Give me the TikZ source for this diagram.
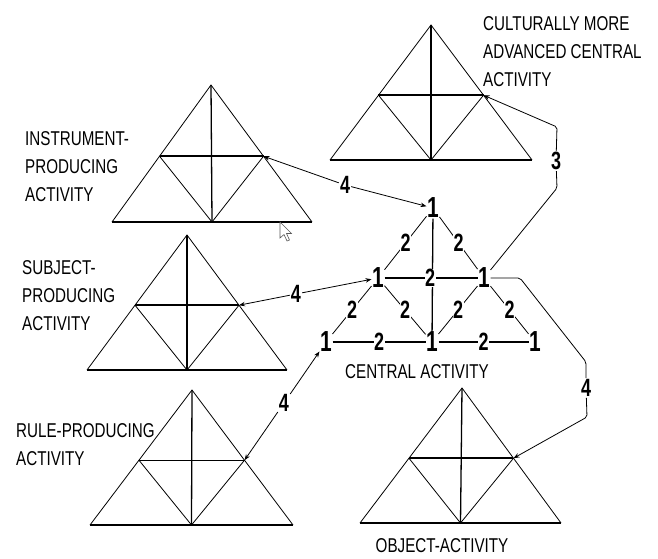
\documentclass[tikz,border=0pt]{standalone}
\usepackage{fontspec}
\usetikzlibrary{arrows.meta,calc}
\newfontfamily\lblfont[FakeStretch=0.76]{Liberation Sans}
\newfontfamily\numfont[FakeStretch=0.72]{Liberation Sans}
\newcommand\mktri[5]{%
  \coordinate (#1a) at #2; \coordinate (#1l) at #3; \coordinate (#1r) at #4;
  \coordinate (#1ml) at ($(#1a)!0.52!(#1l)$);
  \coordinate (#1mr) at ($(#1a)!0.52!(#1r)$);
  \coordinate (#1b) at ($(#1l)!0.5!(#1r)$);
  \draw[side] (#1l) -- (#1a) -- (#1r);
  \draw[basel] (#1l) -- (#1r);
  \draw[vert] (#1a) -- (#1b);
  \draw[side] (#1ml) -- (#1b) -- (#1mr);
  \draw[#5] (#1ml) -- (#1mr);}
\tikzset{
  side/.style={line width=0.8pt},
  basel/.style={line width=2pt},
  vert/.style={line width=1.3pt},
  midthick/.style={line width=2pt},
  midthin/.style={line width=1pt},
  lbl/.style={font=\lblfont\fontsize{20}{28}\selectfont, align=left, inner sep=0pt},
  one/.style={font=\numfont\bfseries\fontsize{29}{29}\selectfont, inner sep=0.5pt},
  two/.style={font=\numfont\bfseries\fontsize{25}{25}\selectfont, inner sep=0.5pt, fill=white},
  num/.style={font=\numfont\bfseries\fontsize{25}{25}\selectfont, inner sep=1pt},
  cline/.style={line width=0.8pt},
  chline/.style={line width=1.5pt},
  conn/.style={line width=0.8pt, -{Stealth[length=6pt,width=4.5pt]}},
  plain/.style={line width=0.8pt}
}
\begin{document}
\begin{tikzpicture}[x=1pt,y=-1pt]
\useasboundingbox (0,0) rectangle (658,558);
\fill[white] (0,0) rectangle (658,558);
% triangles
\mktri{T1}{(431,25)}{(330,160)}{(532,160)}{midthick}
\mktri{T2}{(211,85)}{(112,222)}{(312,222)}{midthick}
\mktri{T3}{(187,235)}{(87,370)}{(287,370)}{midthick}
\mktri{T4}{(192,390)}{(90,525)}{(293,525)}{midthin}
\mktri{T5}{(462,388)}{(360,523)}{(561,523)}{midthick}
% labels
\node[lbl, anchor=north west] (lcult) at (483,16) {CULTURALLY MORE\\ADVANCED CENTRAL\\ACTIVITY};
\node[lbl, anchor=north west] (linstr) at (25,131) {INSTRUMENT-\\PRODUCING\\ACTIVITY};
\node[lbl, anchor=north west] (lsubj) at (22,260) {SUBJECT-\\PRODUCING\\ACTIVITY};
\node[lbl, anchor=north west] (lrule) at (16,423) {RULE-PRODUCING\\ACTIVITY};
\node[lbl] (lcent) at (417,372) {CENTRAL ACTIVITY};
\node[lbl] (lobj) at (442,546) {OBJECT-ACTIVITY};
% central activity
\node[one] (A) at (433,208) {1};
\node[one] (ML) at (378,278) {1};
\node[one] (MR) at (484,278) {1};
\node[one] (BL) at (326,342) {1};
\node[one] (BC) at (432,342) {1};
\node[one] (BR) at (535,342) {1};
\draw[vert] (A) -- (BC);
\draw[chline] (ML) -- (MR);
\draw[chline] (BL) -- node[two] {2} (BC);
\draw[chline] (BC) -- node[two] {2} (BR);
\node[two] (mid2) at (430,278) {2};
\draw[cline] (A) -- node[two] {2} (ML);
\draw[cline] (A) -- node[two] {2} (MR);
\draw[cline] (ML) -- node[two] {2} (BL);
\draw[cline] (ML) -- node[two] {2} (BC);
\draw[cline] (MR) -- node[two] {2} (BC);
\draw[cline] (MR) -- node[two] {2} (BR);
% connectors
\node[num] (n4i) at (345,185) {4};
\draw[conn] (n4i) -- (T2mr);
\draw[conn] (n4i) -- (A);
\node[num] (n4s) at (296,294) {4};
\draw[conn] (n4s) -- (T3mr);
\draw[conn] (n4s) -- (ML);
\node[num] (n4r) at (284,403) {4};
\draw[conn] (n4r) -- (BL);
\draw[conn] (n4r) -- (T4mr);
\node[num] (n4o) at (586,388) {4};
\coordinate (c1) at (520,278);
\coordinate (c2) at (586,362);
\coordinate (c3) at (587,417);
\draw[plain, rounded corners=2pt] (MR) -- (c1) -- (c2) -- (n4o);
\draw[conn, rounded corners=2pt] (n4o) -- (c3) -- (T5mr);
\node[num] (n3) at (556,161) {3};
\coordinate (d1) at (557,188);
\coordinate (d2) at (557,127);
\draw[plain, rounded corners=2pt] (MR) -- (d1) -- (n3);
\draw[conn, rounded corners=2pt] (n3) -- (d2) -- (T1mr);
% mouse pointer
\draw[gray!70!black, fill=white, line width=0.6pt] (280,222) -- (280,238) -- (284,234.5) -- (287,241) -- (289.5,240) -- (286.5,233.5) -- (291.5,233.5) -- cycle;
\end{tikzpicture}
\end{document}
